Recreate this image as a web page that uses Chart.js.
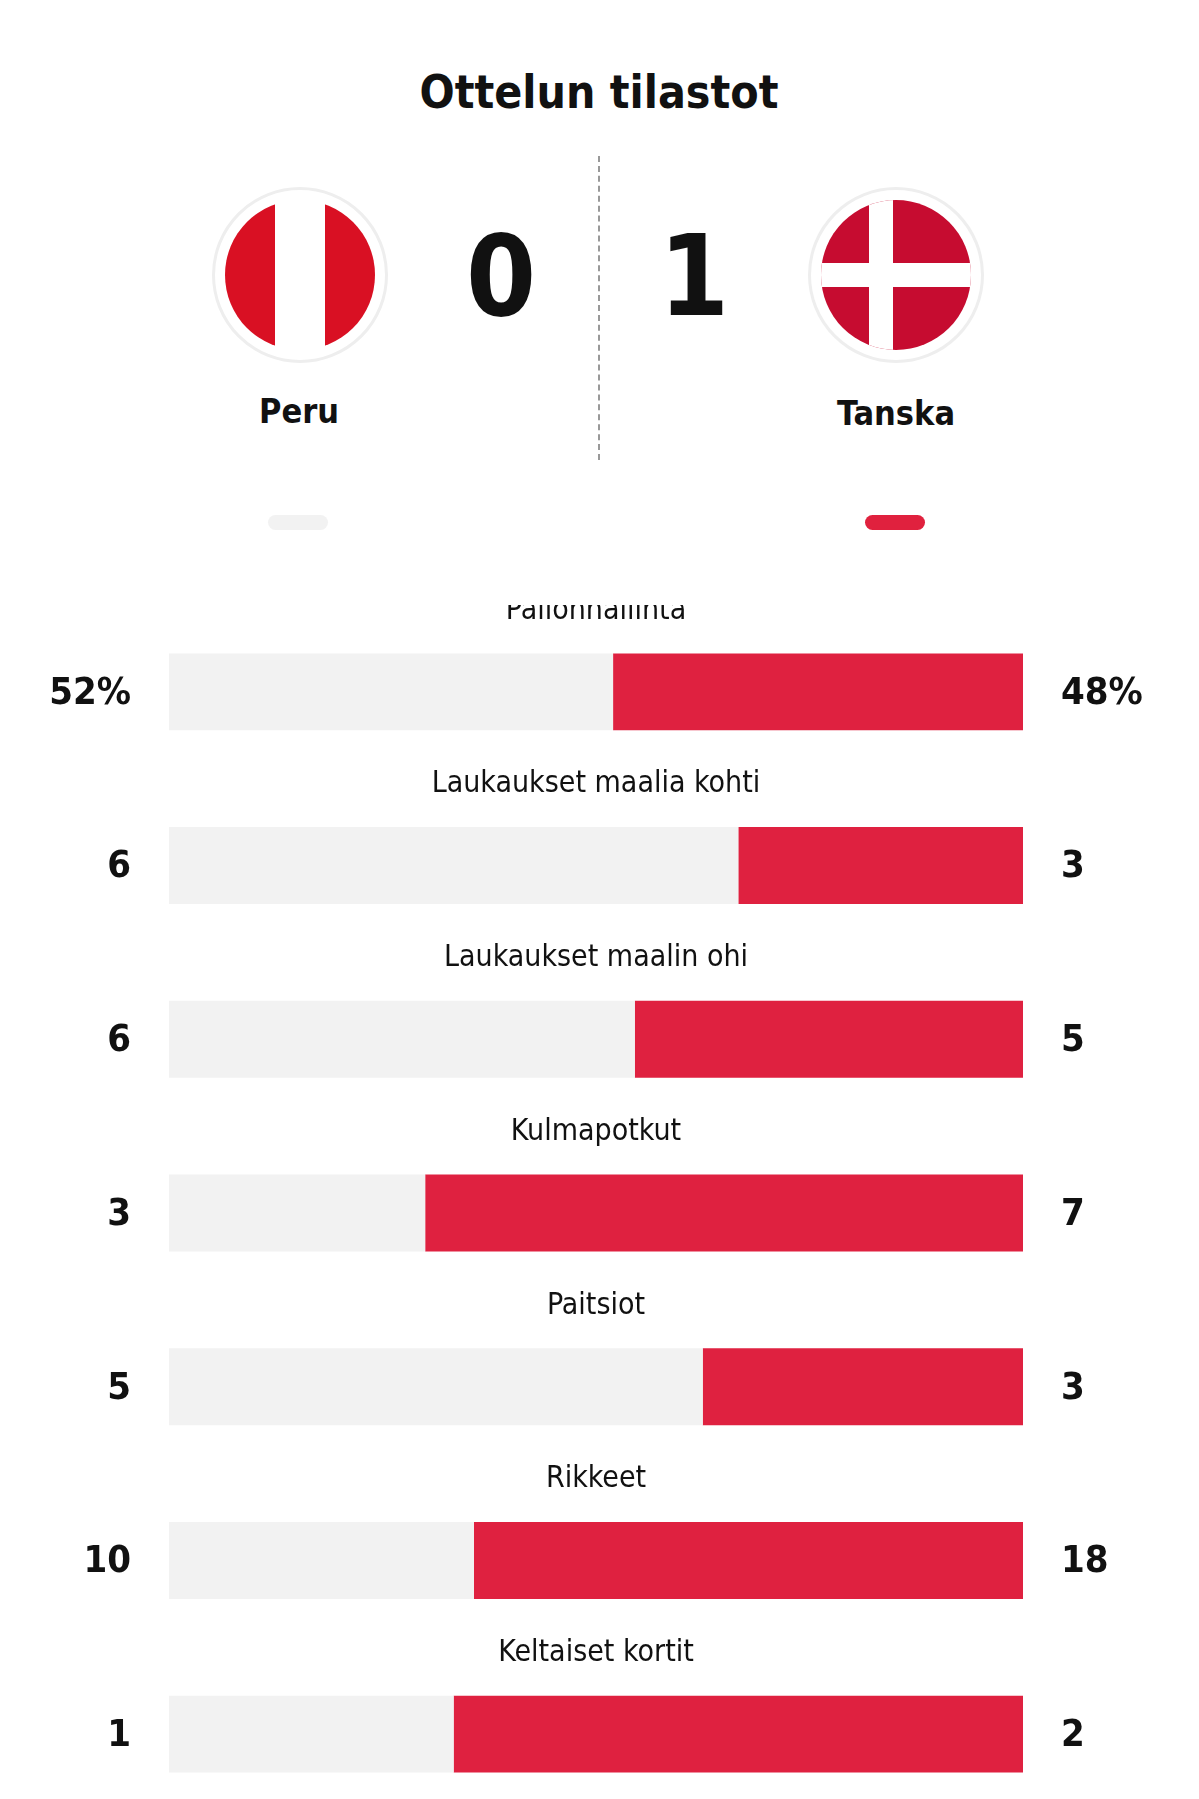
<!DOCTYPE html>
<html><head><meta charset="utf-8">
<script src="https://cdn.jsdelivr.net/npm/chart.js@4"></script>
<style>
body{margin:0;width:1199px;height:1799px;background:#fff;position:relative;overflow:hidden;font-family:"DejaVu Sans Condensed","DejaVu Sans",sans-serif;}
.a{position:absolute;}
.t{transform:translate(-50%,-50%);white-space:nowrap;font-weight:bold;color:#111;}
.flag{position:absolute;width:176px;height:176px;border-radius:50%;box-sizing:border-box;border:3px solid #eee;background:#fff;transform:translate(-50%,-50%);}
.in{position:absolute;left:10px;top:10px;width:150px;height:150px;border-radius:50%;overflow:hidden;}
</style></head><body>
<div class="a t" style="left:599px;top:92px;font-size:46px;">Ottelun tilastot</div>
<div class="a" style="left:598px;top:156px;height:304px;border-left:2px dashed #999;"></div>
<div class="flag" style="left:300px;top:275px;"><div class="in" style="background:linear-gradient(90deg,#d91023 0 33.3%,#fff 33.3% 66.6%,#d91023 66.6%);"></div></div>
<div class="flag" style="left:896px;top:275px;"><div class="in" style="background:#c60c30;">
<div class="a" style="left:48px;top:0;width:24px;height:150px;background:#fff"></div>
<div class="a" style="left:0;top:63px;width:150px;height:24px;background:#fff"></div></div></div>
<div class="a t" style="left:501px;top:276px;font-size:112px;">0</div>
<div class="a t" style="left:694px;top:276px;font-size:112px;">1</div>
<div class="a t" style="left:299px;top:411px;font-size:34px;">Peru</div>
<div class="a t" style="left:896px;top:413px;font-size:34px;">Tanska</div>
<div class="a" style="left:268px;top:515px;width:60px;height:15px;border-radius:8px;background:#f2f2f2"></div>
<div class="a" style="left:865px;top:515px;width:60px;height:15px;border-radius:8px;background:#e0213e"></div>
<div class="a" style="left:0;top:605px;width:1199px;height:1216px;"><canvas id="c"></canvas></div>
<script>
const categories=["Pallonhallinta","Laukaukset maalia kohti","Laukaukset maalin ohi","Kulmapotkut","Paitsiot","Rikkeet","Keltaiset kortit"];
const homeValues=[52,6,6,3,5,10,1];
const awayValues=[48,3,5,7,3,18,2];
const homeLabels=["52%","6","6","3","5","10","1"];
const awayLabels=["48%","3","5","7","3","18","2"];
const homeShare=homeValues.map((v,i)=>v/(v+awayValues[i]));
const awayShare=homeValues.map((v,i)=>awayValues[i]/(v+awayValues[i]));
const textPlugin={id:'txt',afterDatasetsDraw(ch){
  const ctx=ch.ctx,y=ch.scales.y,x=ch.scales.x;
  ctx.save();ctx.fillStyle='#111';ctx.textBaseline='middle';
  categories.forEach((c,i)=>{
    const cy=y.getPixelForValue(i);
    ctx.font='30px "DejaVu Sans Condensed","DejaVu Sans"';ctx.textAlign='center';
    ctx.fillText(c,(x.left+x.right)/2,cy-81);
    ctx.font='bold 38px "DejaVu Sans Condensed","DejaVu Sans"';
    ctx.textAlign='right';ctx.fillText(homeLabels[i],x.left-38,cy+2);
    ctx.textAlign='left';ctx.fillText(awayLabels[i],x.right+38,cy+2);
  });ctx.restore();}};
new Chart(document.getElementById('c'),{type:'bar',
 data:{labels:categories,datasets:[
  {data:homeShare,backgroundColor:'#f2f2f2'},
  {data:awayShare,backgroundColor:'#df2140'}]},
 options:{indexAxis:'y',responsive:true,maintainAspectRatio:false,animation:false,
  layout:{padding:{left:169,right:176,top:0,bottom:0}},
  datasets:{bar:{barPercentage:0.443,categoryPercentage:1,borderWidth:0}},
  plugins:{legend:{display:false},tooltip:{enabled:false}},
  scales:{x:{stacked:true,min:0,max:1,display:false},y:{stacked:true,display:false}}},
 plugins:[textPlugin]});
</script></body></html>
